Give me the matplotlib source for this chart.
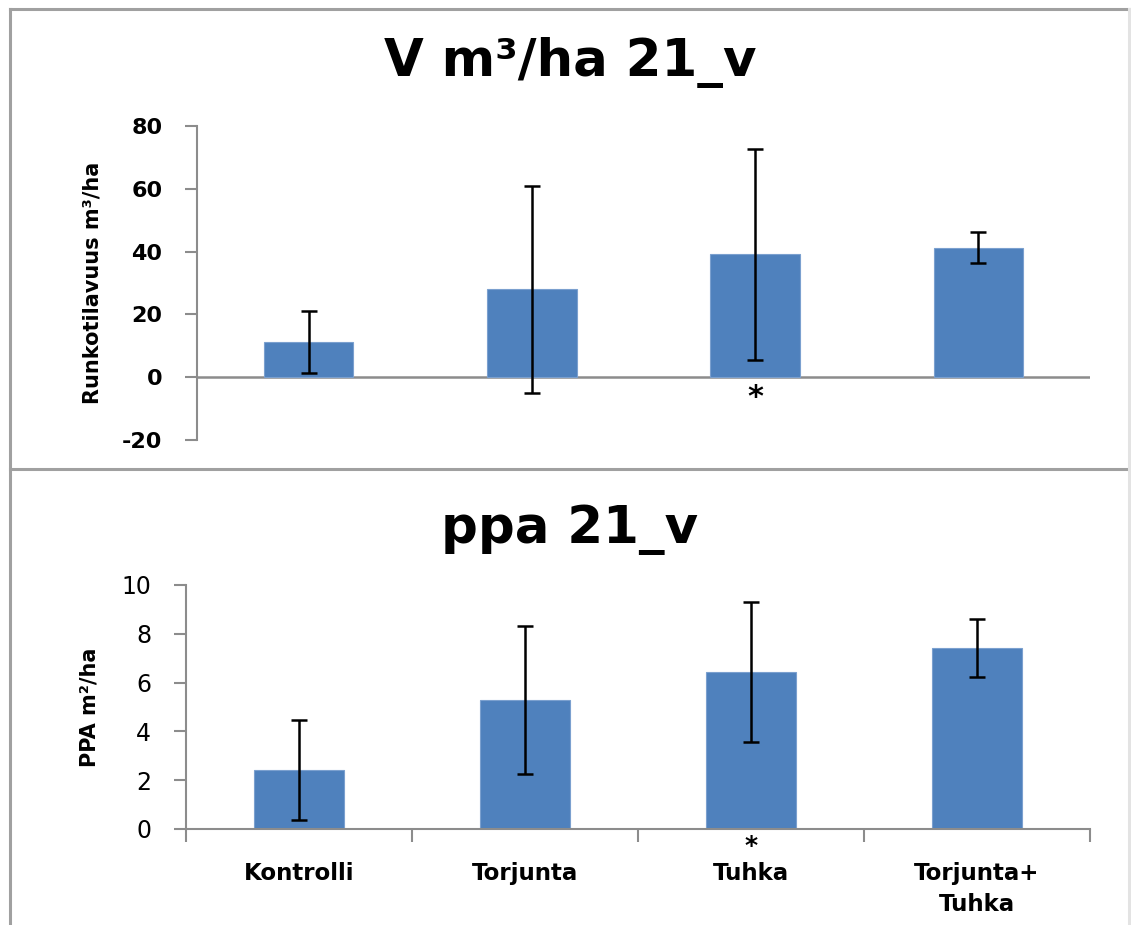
import matplotlib
matplotlib.use("Agg")
import matplotlib.pyplot as plt
from matplotlib.lines import Line2D
import numpy as np

categories = ["Kontrolli", "Torjunta", "Tuhka", "Torjunta+\nTuhka"]
v_means = [11.2, 28.0, 39.1, 41.2]
v_err = [9.8, 32.9, 33.6, 4.9]
ppa_means = [2.40, 5.28, 6.42, 7.42]
ppa_err = [2.05, 3.03, 2.87, 1.20]
v_ticks = [-20, 0, 20, 40, 60, 80]
ppa_ticks = [0, 2, 4, 6, 8, 10]
star_index = 2

BAR = "#4F81BD"
AX = "#8C8C8C"
FONT = ["DejaVu Sans"]

W, H = 1131, 925
fig = plt.figure(figsize=(W / 100, H / 100), dpi=100)

def fx(px):
    return px / W

def fy(py):
    return 1 - py / H

# panel borders
for (x0, y0, x1, y1, c) in [(10, 9, 1131, 9, "#A0A0A0"), (10, 9, 10, 925, "#A0A0A0"),
                            (10, 469, 1131, 469, "#A0A0A0"), (1129, 9, 1129, 925, "#E3E3E3")]:
    fig.add_artist(Line2D([fx(x0), fx(x1)], [fy(y0), fy(y1)], color=c, lw=2.2,
                          transform=fig.transFigure))

x = np.arange(len(categories))

# ---------- top panel ----------
ax1 = fig.add_axes([fx(197), fy(440), fx(1090) - fx(197), fy(126) - fy(440)])
ax1.bar(x, v_means, width=0.4, color=BAR, edgecolor="#7BA0CF", linewidth=0.8, zorder=2)
ax1.errorbar(x, v_means, yerr=v_err, fmt="none", ecolor="black", elinewidth=1.8,
             capsize=6, capthick=1.8, zorder=3)
ax1.set_xlim(-0.5, len(categories) - 0.5)
ax1.set_ylim(-20, 80)
ax1.set_yticks(v_ticks)
ax1.set_yticklabels([str(t) for t in v_ticks], fontfamily=FONT, fontweight="bold", fontsize=16)
ax1.set_xticks([])
for s in ["top", "right", "bottom"]:
    ax1.spines[s].set_visible(False)
ax1.spines["left"].set_color(AX)
ax1.spines["left"].set_linewidth(1.5)
ax1.axhline(0, color=AX, lw=1.8, zorder=1)
ax1.tick_params(axis="y", direction="out", length=9, width=1.5, color=AX, pad=16)
ax1.set_ylabel("Runkotilavuus m³/ha", fontfamily=FONT, fontweight="bold", fontsize=15, labelpad=14)
ax1.text(star_index, -6.4, "*", ha="center", va="center", fontsize=22, fontweight="bold")
fig.text(fx(570), fy(63), "V m³/ha 21_v", ha="center", va="center",
         fontfamily=FONT, fontweight="bold", fontsize=37)

# ---------- bottom panel ----------
ax2 = fig.add_axes([fx(186), fy(829), fx(1090) - fx(186), fy(585) - fy(829)])
ax2.bar(x, ppa_means, width=0.4, color=BAR, edgecolor="#7BA0CF", linewidth=0.8, zorder=2)
ax2.errorbar(x, ppa_means, yerr=ppa_err, fmt="none", ecolor="black", elinewidth=1.8,
             capsize=6, capthick=1.8, zorder=3)
ax2.set_xlim(-0.5, len(categories) - 0.5)
ax2.set_ylim(0, 10)
ax2.set_yticks(ppa_ticks)
ax2.set_yticklabels([str(t) for t in ppa_ticks], fontfamily=FONT, fontsize=17)
ax2.set_xticks(x)
ax2.set_xticklabels(categories, fontfamily=FONT, fontweight="bold", fontsize=16.5,
                    linespacing=1.4, va="top")
ax2.set_xticks(np.arange(len(categories) + 1) - 0.5, minor=True)
ax2.tick_params(axis="x", which="major", length=0, pad=24)
ax2.tick_params(axis="x", which="minor", direction="out", length=9, width=1.5, color=AX)
for s in ["top", "right"]:
    ax2.spines[s].set_visible(False)
for s in ["left", "bottom"]:
    ax2.spines[s].set_color(AX)
    ax2.spines[s].set_linewidth(1.5)
ax2.tick_params(axis="y", direction="out", length=9, width=1.5, color=AX, pad=16)
ax2.set_ylabel("PPA m²/ha", fontfamily=FONT, fontweight="bold", fontsize=15, labelpad=16)
ax2.text(star_index, -0.7, "*", ha="center", va="center", fontsize=18, fontweight="bold")
fig.text(fx(570), fy(530), "ppa 21_v", ha="center", va="center",
         fontfamily=FONT, fontweight="bold", fontsize=37)

fig.savefig("out.png", dpi=100)
